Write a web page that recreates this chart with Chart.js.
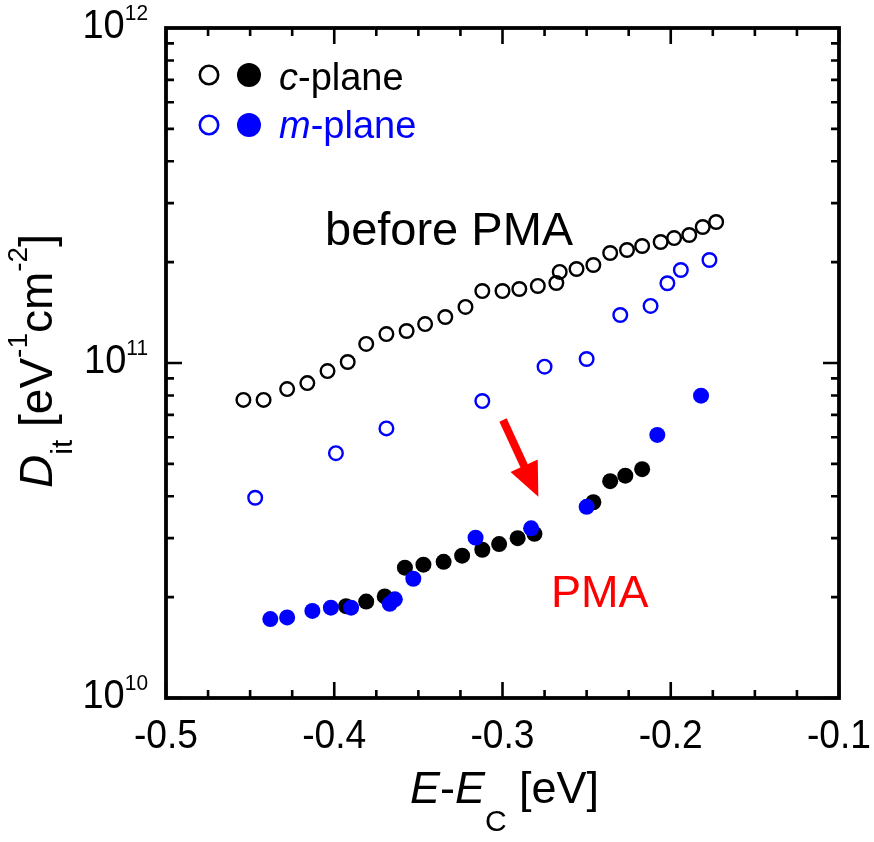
<!DOCTYPE html>
<html>
<head>
<meta charset="utf-8">
<script src="https://cdn.jsdelivr.net/npm/chart.js@4/dist/chart.umd.min.js"></script>
<style>
  html, body { margin: 0; padding: 0; background: #fff; }
  #wrap { width: 874px; height: 842px; }
</style>
</head>
<body>
<div id="wrap"><canvas id="dit"></canvas></div>
<script>
const FONT = '"Liberation Sans", Arial, sans-serif';

// E - Ec [eV] and Dit [eV^-1 cm^-2]
const cBeforeE = [-0.454, -0.442, -0.428, -0.416, -0.404, -0.392, -0.381, -0.369, -0.357, -0.346,
  -0.334, -0.322, -0.312, -0.300, -0.290, -0.279, -0.268, -0.266, -0.256, -0.246,
  -0.236, -0.226, -0.217, -0.206, -0.198, -0.189, -0.181, -0.173];
const cBeforeDit = [7.76e10, 7.76e10, 8.36e10, 8.71e10, 9.46e10, 1.007e11, 1.14e11, 1.22e11, 1.246e11, 1.307e11,
  1.372e11, 1.47e11, 1.64e11, 1.64e11, 1.663e11, 1.698e11, 1.733e11, 1.87e11, 1.908e11, 1.961e11,
  2.13e11, 2.174e11, 2.235e11, 2.297e11, 2.36e11, 2.41e11, 2.547e11, 2.636e11];

const mBeforeE = [-0.447, -0.399, -0.369, -0.312, -0.275, -0.250, -0.230, -0.212, -0.202, -0.194, -0.177];
const mBeforeDit = [3.96e10, 5.38e10, 6.38e10, 7.70e10, 9.75e10, 1.028e11, 1.391e11, 1.48e11, 1.73e11, 1.895e11, 2.03e11];

const cAfterE = [-0.393, -0.381, -0.370, -0.358, -0.347, -0.335, -0.324, -0.312, -0.302, -0.291,
  -0.281, -0.246, -0.236, -0.227, -0.217];
const cAfterDit = [1.88e10, 1.94e10, 2.01e10, 2.45e10, 2.50e10, 2.55e10, 2.66e10, 2.77e10, 2.88e10, 3.00e10,
  3.09e10, 3.84e10, 4.44e10, 4.61e10, 4.82e10];

const mAfterE = [-0.438, -0.428, -0.413, -0.402, -0.390, -0.367, -0.364, -0.353, -0.316, -0.283, -0.250, -0.208, -0.182];
const mAfterDit = [1.72e10, 1.74e10, 1.82e10, 1.86e10, 1.86e10, 1.91e10, 1.97e10, 2.27e10, 3.01e10, 3.21e10, 3.72e10, 6.10e10, 7.99e10];

const xTicks = [-0.5, -0.4, -0.3, -0.2, -0.1];
const yDecades = [10, 11, 12];

function pts(xs, ys) {
  return xs.map((x, i) => ({ x: x, y: ys[i] }));
}

// text made of pieces: [text, size, dy, italic]; sx squeezes it horizontally
function rich(ctx, parts, x, y, align, sx) {
  sx = sx || 1;
  let w = 0;
  const widths = parts.map(p => {
    ctx.font = (p[3] ? 'italic ' : '') + p[1] + 'px ' + FONT;
    const m = ctx.measureText(p[0]).width * sx;
    w += m;
    return m;
  });
  let cx = align === 'center' ? x - w / 2 : align === 'right' ? x - w : x;
  parts.forEach((p, i) => {
    ctx.font = (p[3] ? 'italic ' : '') + p[1] + 'px ' + FONT;
    ctx.save();
    ctx.translate(cx, y + p[2]);
    ctx.scale(sx, 1);
    ctx.fillText(p[0], 0, 0);
    ctx.restore();
    cx += widths[i];
  });
}

const decor = {
  id: 'decor',
  afterDraw(chart) {
    const ctx = chart.ctx;
    const a = chart.chartArea;
    const xs = chart.scales.x, ys = chart.scales.y;
    ctx.save();
    ctx.fillStyle = '#000';
    ctx.strokeStyle = '#000';
    ctx.textAlign = 'left';
    ctx.textBaseline = 'alphabetic';

    // frame
    ctx.lineWidth = 3.8;
    ctx.strokeRect(a.left, a.top, a.right - a.left, a.bottom - a.top);

    // x ticks (inward, bottom and top)
    ctx.lineWidth = 2.6;
    for (let v = -0.5; v <= -0.1 + 1e-9; v += 0.025) {
      const px = xs.getPixelForValue(v);
      const major = Math.abs(v * 10 - Math.round(v * 10)) < 1e-6;
      const len = major ? 16 : 8;
      ctx.beginPath();
      ctx.moveTo(px, a.bottom); ctx.lineTo(px, a.bottom - len);
      ctx.moveTo(px, a.top); ctx.lineTo(px, a.top + len);
      ctx.stroke();
    }
    // y ticks (inward, left and right)
    for (let d = yDecades[0]; d < yDecades[yDecades.length - 1]; d++) {
      for (let k = 1; k <= 9; k++) {
        const py = ys.getPixelForValue(k * Math.pow(10, d));
        const len = k === 1 ? 16 : 8;
        ctx.beginPath();
        ctx.moveTo(a.left, py); ctx.lineTo(a.left + len, py);
        ctx.moveTo(a.right, py); ctx.lineTo(a.right - len, py);
        ctx.stroke();
      }
    }

    // x tick labels
    xTicks.forEach(v => {
      rich(ctx, [[v.toFixed(1), 40, 0, false]], xs.getPixelForValue(v), a.bottom + 50, 'center', 0.93);
    });

    // y tick labels 10^n
    yDecades.forEach(d => {
      const py = ys.getPixelForValue(Math.pow(10, d));
      rich(ctx, [['10', 40, 0, false], [String(d), 22, -18, false]], a.left - 18, py + 10, 'right', 0.95);
    });

    // axis titles
    rich(ctx, [['E', 45, 0, true], ['-', 45, 0, false], ['E', 45, 0, true], ['C', 30, 28, false], [' [eV]', 45, 0, false]],
      (a.left + a.right) / 2 + 2, 803, 'center');
    ctx.save();
    ctx.translate(52, (a.top + a.bottom) / 2 - 2);
    ctx.rotate(-Math.PI / 2);
    rich(ctx, [['D', 46, 0, true], ['it', 30, 20, false], [' [eV', 46, 0, false], ['-1', 28, -25, false],
      ['cm', 46, 0, false], ['-2', 28, -25, false], [']', 46, 0, false]], 0, 0, 'center');
    ctx.restore();

    // legend
    const lx1 = a.left + 43, lx2 = a.left + 83, tx = a.left + 113;
    [[75, '#000', 'c', 90], [125, '#0000ff', 'm', 138]].forEach(r => {
      ctx.strokeStyle = r[1];
      ctx.fillStyle = r[1];
      ctx.lineWidth = 2.6;
      ctx.beginPath(); ctx.arc(lx1, r[0], 9.2, 0, Math.PI * 2); ctx.stroke();
      ctx.beginPath(); ctx.arc(lx2, r[0], 12, 0, Math.PI * 2); ctx.fill();
      rich(ctx, [[r[2], 38, 0, true], ['-plane', 38, 0, false]], tx, r[3], 'left');
    });

    // annotations
    ctx.fillStyle = '#000';
    ctx.font = '47px ' + FONT;
    ctx.fillText('before PMA', xs.getPixelForValue(-0.4055), ys.getPixelForValue(2.25e11));
    ctx.fillStyle = '#ff0000';
    ctx.font = '45px ' + FONT;
    ctx.fillText('PMA', xs.getPixelForValue(-0.2712), ys.getPixelForValue(1.87e10));

    // arrow
    const x0 = xs.getPixelForValue(-0.2997), y0 = ys.getPixelForValue(6.76e10);
    const x1 = xs.getPixelForValue(-0.2787), y1 = ys.getPixelForValue(3.99e10);
    const dx = x1 - x0, dy = y1 - y0, L = Math.hypot(dx, dy);
    const ux = dx / L, uy = dy / L;
    const hl = 34, hw = 15;
    const bx = x1 - ux * hl, by = y1 - uy * hl;
    ctx.strokeStyle = '#ff0000';
    ctx.lineWidth = 8;
    ctx.beginPath(); ctx.moveTo(x0, y0); ctx.lineTo(bx + ux * 2, by + uy * 2); ctx.stroke();
    ctx.beginPath();
    ctx.moveTo(x1, y1);
    ctx.lineTo(bx - uy * hw, by + ux * hw);
    ctx.lineTo(bx + uy * hw, by - ux * hw);
    ctx.closePath();
    ctx.fill();

    ctx.restore();
  }
};

new Chart(document.getElementById('dit'), {
  type: 'scatter',
  data: {
    datasets: [
      { label: 'm-plane PMA', data: pts(mAfterE, mAfterDit), order: 0,
        pointRadius: 8, pointBackgroundColor: '#0000ff', pointBorderWidth: 0 },
      { label: 'c-plane PMA', data: pts(cAfterE, cAfterDit), order: 1,
        pointRadius: 8, pointBackgroundColor: '#000', pointBorderWidth: 0 },
      { label: 'm-plane before', data: pts(mBeforeE, mBeforeDit), order: 2,
        pointRadius: 6.8, pointBackgroundColor: 'rgba(0,0,0,0)', pointBorderColor: '#0000ff', pointBorderWidth: 2.4 },
      { label: 'c-plane before', data: pts(cBeforeE, cBeforeDit), order: 3,
        pointRadius: 6.8, pointBackgroundColor: 'rgba(0,0,0,0)', pointBorderColor: '#000', pointBorderWidth: 2.4 },
    ],
  },
  options: {
    responsive: true,
    maintainAspectRatio: false,
    animation: false,
    layout: { padding: { left: 166, top: 28, right: 35, bottom: 144 } },
    plugins: { legend: { display: false }, tooltip: { enabled: false } },
    scales: {
      x: { type: 'linear', min: -0.5, max: -0.1, display: false },
      y: { type: 'logarithmic', min: 1e10, max: 1e12, display: false },
    },
  },
  plugins: [decor],
});
</script>
</body>
</html>
